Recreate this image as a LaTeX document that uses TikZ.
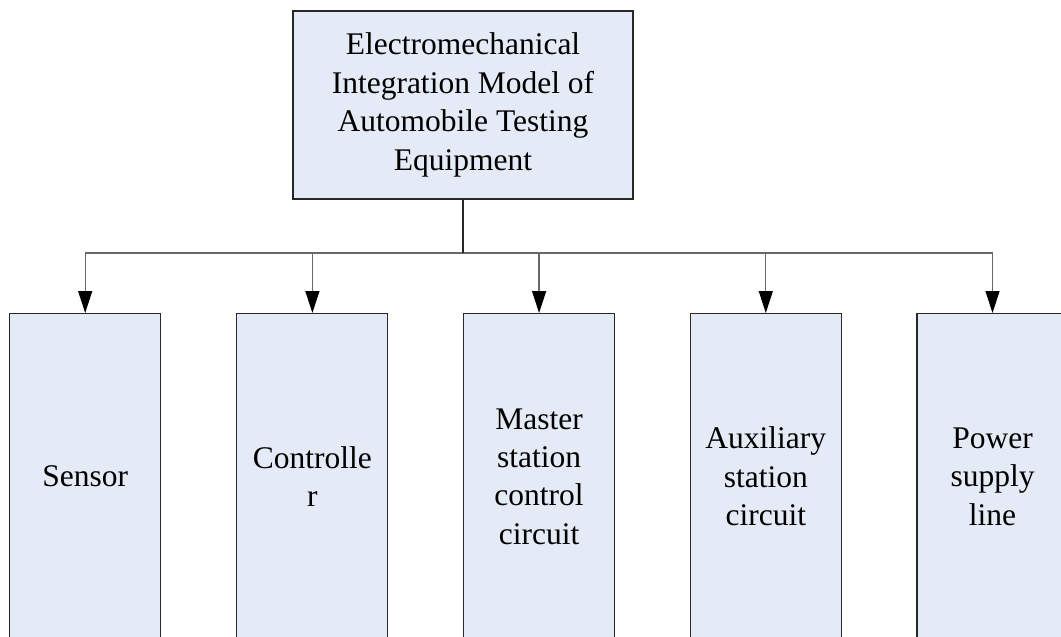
\documentclass[tikz,border=0pt]{standalone}
\usepackage{fontspec}
\setmainfont{Liberation Serif}
\usetikzlibrary{arrows.meta}
\definecolor{boxfill}{RGB}{228,235,246}
\definecolor{boxline}{RGB}{40,40,40}
\definecolor{wirecol}{RGB}{105,105,105}
\begin{document}
\begin{tikzpicture}[x=1pt,y=-1pt,
  box/.style={draw=boxline, line width=1.1pt, fill=boxfill, inner sep=0pt,
    align=center, font=\fontsize{31.5}{38.4}\selectfont},
  topbox/.style={box, minimum width=340pt, minimum height=188pt},
  leaf/.style={box, minimum width=151pt, minimum height=326pt, anchor=north},
  wire/.style={draw=wirecol, line width=1.3pt},
  stem/.style={draw=black!85, line width=1.1pt},
  feed/.style={wire, -{Triangle[length=22pt,width=14pt,color=black,fill=black]}}]
\useasboundingbox (0,0) rectangle (1061,637);
\clip (0,0) rectangle (1061,637);

% root of the hierarchy
\node[topbox] (root) at (463,105)
  {Electromechanical\\Integration Model of\\Automobile Testing\\Equipment};

% component boxes
\node[leaf] (sensor) at (85.2,313)  {Sensor};
\node[leaf] (ctrl)   at (312.4,313) {Controlle\\r};
\node[leaf] (master) at (539.1,313) {Master\\station\\control\\circuit};
\node[leaf] (aux)    at (765.8,313) {Auxiliary\\station\\circuit};
\node[leaf] (power)  at (992.5,313) {Power\\supply\\line};

% distribution bus
\coordinate (bus) at (463,253);
\draw[wire] (bus -| sensor.north) -- (bus -| power.north);
\draw[stem] (root.south) -- (bus);
\foreach \n in {sensor,ctrl,master,aux,power}
  \draw[feed] (bus -| \n.north) -- (\n.north);
\end{tikzpicture}
\end{document}
